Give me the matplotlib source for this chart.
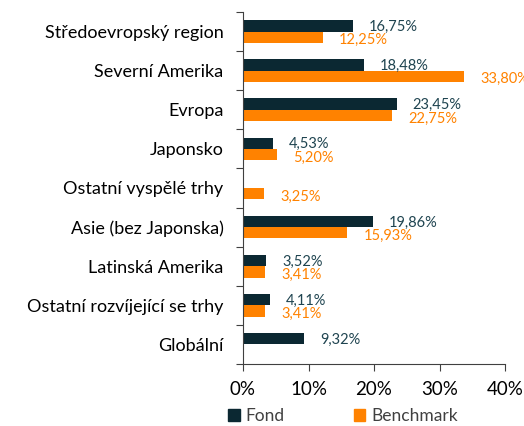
import matplotlib
matplotlib.use("Agg")
import matplotlib.pyplot as plt
import numpy as np

categories = ["Středoevropský region", "Severní Amerika", "Evropa", "Japonsko",
              "Ostatní vyspělé trhy", "Asie (bez Japonska)", "Latinská Amerika",
              "Ostatní rozvíjející se trhy", "Globální"]
fond = [16.75, 18.48, 23.45, 4.53, None, 19.86, 3.52, 4.11, 9.32]
bench = [12.25, 33.80, 22.75, 5.20, 3.25, 15.93, 3.41, 3.41, None]
xticks = [0, 10, 20, 30, 40]
series_names = ["Fond", "Benchmark"]

c_fond = "#0b2832"
c_fond_txt = "#1f4450"
c_bench = "#ff8200"

plt.rcParams['font.family'] = ['Lato', 'DejaVu Sans']

fig = plt.figure(figsize=(5.24, 4.26), dpi=100)
ax = fig.add_axes([243/524, 1 - 364/426, (505-243)/524, (364-12)/426])

n = len(categories)
y = np.arange(n)
h = 0.29

def fmt(v):
    return f"{v:.2f}".replace(".", ",") + "%"

for i in range(n):
    if fond[i] is not None:
        ax.barh(y[i] - h/2, fond[i], height=h, color=c_fond, edgecolor='none')
        ax.annotate(fmt(fond[i]), (fond[i], y[i] - h/2), xytext=(16, -1),
                    textcoords='offset pixels', ha='left', va='center',
                    fontsize=10.5, color=c_fond_txt)
    if bench[i] is not None:
        ax.barh(y[i] + h/2, bench[i], height=h, color=c_bench, edgecolor='none')
        ax.annotate(fmt(bench[i]), (bench[i], y[i] + h/2), xytext=(16, -3),
                    textcoords='offset pixels', ha='left', va='center',
                    fontsize=10.5, color=c_bench, annotation_clip=False)

ax.set_ylim(n - 0.5, -0.5)
ax.set_xlim(0, 40)
ax.set_xticks(xticks)
ax.set_xticklabels([f"{t}%" for t in xticks], fontsize=13.5)
ax.set_yticks(np.arange(n + 1) - 0.5)
ax.set_yticklabels([])
ax.set_yticks(y, minor=True)
ax.set_yticklabels(categories, minor=True, fontsize=13)
ax.tick_params(axis='y', which='minor', length=0, pad=14)
ax.tick_params(axis='y', which='major', length=5, color='#404040', direction='out')
ax.tick_params(axis='x', length=5, color='#404040', pad=7)

for s in ['top', 'right']:
    ax.spines[s].set_visible(False)
for s in ['left', 'bottom']:
    ax.spines[s].set_color('#404040')

from matplotlib.patches import Patch
handles = [Patch(color=c_fond), Patch(color=c_bench)]
fig.legend(handles, series_names, loc='center', bbox_to_anchor=(0.655, 1 - 416/426),
           ncol=2, frameon=False, fontsize=12.5, handlelength=0.65, handleheight=0.65,
           handletextpad=0.35, columnspacing=4.0, labelcolor='#404040')

fig.savefig("out.png", dpi=100)
